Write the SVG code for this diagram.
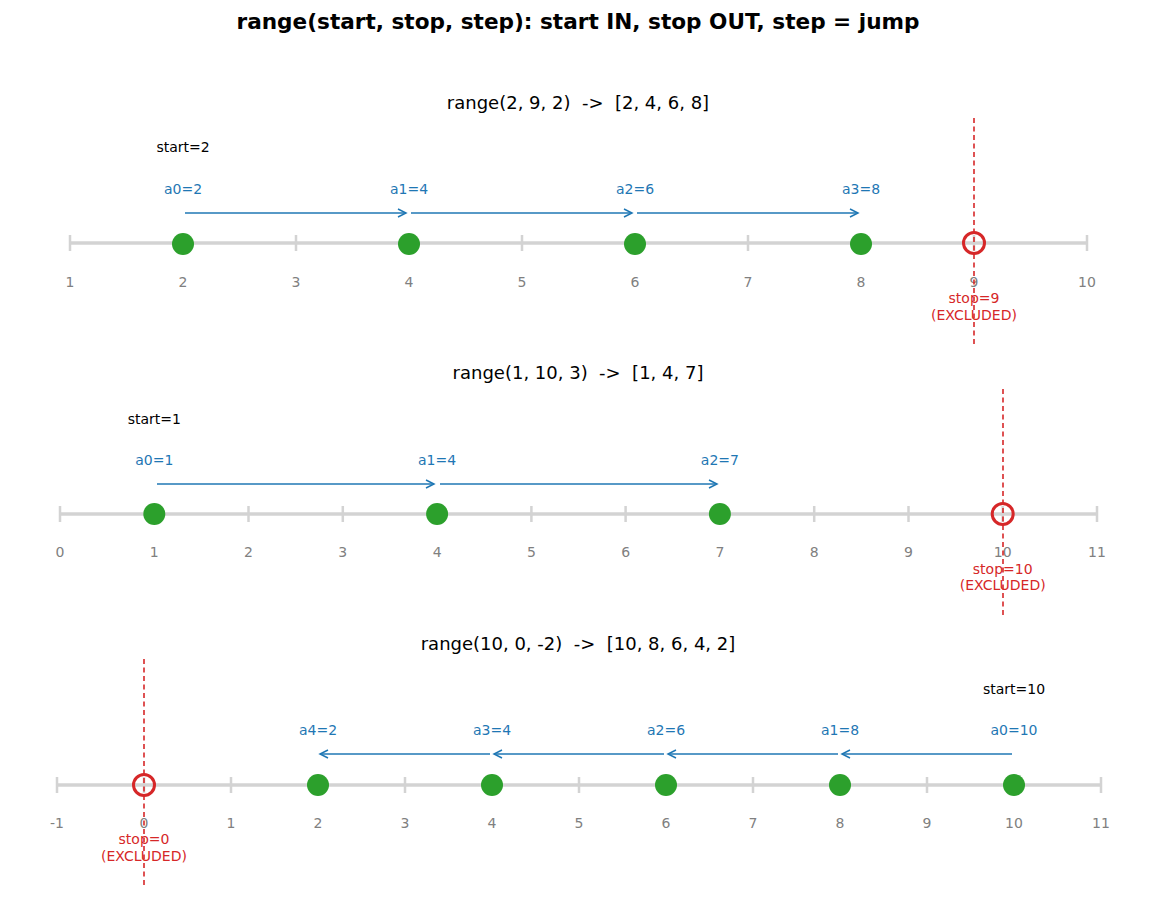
<svg xmlns="http://www.w3.org/2000/svg" width="1156" height="898" viewBox="0 0 1156 898">
<style>
text{font-family:"DejaVu Sans",sans-serif;white-space:pre}
.title{font-size:21.6px;font-weight:bold;fill:#000}
.sub{font-size:18px;fill:#000}
.tick{font-size:14px;fill:#808080}
.lbl{font-size:14px;fill:#1f77b4}
.start{font-size:14px;fill:#000}
.stop{font-size:14px;fill:#d62728}
.axis{stroke:#d3d3d3;stroke-width:3.5;fill:none}
.tk{stroke:#d3d3d3;stroke-width:2.5}
.dot{fill:#2ca02c}
.ring{fill:none;stroke:#d62728;stroke-width:3}
.dash{stroke:#d62728;stroke-width:1.6;stroke-dasharray:5,3.5}
.arr{stroke:#1f77b4;stroke-width:1.5;fill:none;marker-end:url(#ah)}
</style>
<defs>
<marker id="ah" markerWidth="12" markerHeight="12" refX="10" refY="6" orient="auto" markerUnits="userSpaceOnUse">
<path d="M2,2 L10,6 L2,10" fill="none" stroke="#1f77b4" stroke-width="1.5"/>
</marker>
</defs>
<rect width="1156" height="898" fill="#fff"/>
<text class="title" x="578" y="29" text-anchor="middle">range(start, stop, step): start IN, stop OUT, step = jump</text>

<!-- Panel 1 -->
<g id="panel1">
<text class="sub" x="578" y="109" text-anchor="middle" xml:space="preserve">range(2, 9, 2)  -&gt;  [2, 4, 6, 8]</text>
<line class="axis" x1="70" y1="243" x2="1087" y2="243"/>
<g class="tk">
<line x1="70" y1="235" x2="70" y2="251"/><line x1="183" y1="235" x2="183" y2="251"/><line x1="296" y1="235" x2="296" y2="251"/><line x1="409" y1="235" x2="409" y2="251"/><line x1="522" y1="235" x2="522" y2="251"/><line x1="635" y1="235" x2="635" y2="251"/><line x1="748" y1="235" x2="748" y2="251"/><line x1="861" y1="235" x2="861" y2="251"/><line x1="974" y1="235" x2="974" y2="251"/><line x1="1087" y1="235" x2="1087" y2="251"/>
</g>
<g class="tick" text-anchor="middle">
<text x="70" y="287">1</text><text x="183" y="287">2</text><text x="296" y="287">3</text><text x="409" y="287">4</text><text x="522" y="287">5</text><text x="635" y="287">6</text><text x="748" y="287">7</text><text x="861" y="287">8</text><text x="974" y="287">9</text><text x="1087" y="287">10</text>
</g>
<line class="dash" x1="974" y1="118" x2="974" y2="344"/>
<g id="p1n0"><circle class="dot" cx="183" cy="244" r="11"/><text class="lbl" x="183" y="194" text-anchor="middle">a0=2</text></g>
<g id="p1n1"><circle class="dot" cx="409" cy="244" r="11"/><text class="lbl" x="409" y="194" text-anchor="middle">a1=4</text></g>
<g id="p1n2"><circle class="dot" cx="635" cy="244" r="11"/><text class="lbl" x="635" y="194" text-anchor="middle">a2=6</text></g>
<g id="p1n3"><circle class="dot" cx="861" cy="244" r="11"/><text class="lbl" x="861" y="194" text-anchor="middle">a3=8</text></g>
<g id="p1stop"><circle class="ring" cx="974" cy="243" r="10.5"/><text class="stop" x="974" y="303" text-anchor="middle">stop=9</text><text class="stop" x="974" y="320" text-anchor="middle">(EXCLUDED)</text></g>
<text class="start" x="183" y="152" text-anchor="middle">start=2</text>
<g id="p1arrows">
<line class="arr" x1="185" y1="213" x2="406" y2="213"/>
<line class="arr" x1="411" y1="213" x2="632" y2="213"/>
<line class="arr" x1="637" y1="213" x2="858" y2="213"/>
</g>
</g>

<!-- Panel 2 -->
<g id="panel2">
<text class="sub" x="578" y="379" text-anchor="middle" xml:space="preserve">range(1, 10, 3)  -&gt;  [1, 4, 7]</text>
<line class="axis" x1="60" y1="514" x2="1097" y2="514"/>
<g class="tk">
<line x1="60" y1="506" x2="60" y2="522"/><line x1="154.3" y1="506" x2="154.3" y2="522"/><line x1="248.5" y1="506" x2="248.5" y2="522"/><line x1="342.8" y1="506" x2="342.8" y2="522"/><line x1="437.1" y1="506" x2="437.1" y2="522"/><line x1="531.4" y1="506" x2="531.4" y2="522"/><line x1="625.6" y1="506" x2="625.6" y2="522"/><line x1="719.9" y1="506" x2="719.9" y2="522"/><line x1="814.2" y1="506" x2="814.2" y2="522"/><line x1="908.5" y1="506" x2="908.5" y2="522"/><line x1="1002.7" y1="506" x2="1002.7" y2="522"/><line x1="1097" y1="506" x2="1097" y2="522"/>
</g>
<g class="tick" text-anchor="middle">
<text x="60" y="557">0</text><text x="154.3" y="557">1</text><text x="248.5" y="557">2</text><text x="342.8" y="557">3</text><text x="437.1" y="557">4</text><text x="531.4" y="557">5</text><text x="625.6" y="557">6</text><text x="719.9" y="557">7</text><text x="814.2" y="557">8</text><text x="908.5" y="557">9</text><text x="1002.7" y="557">10</text><text x="1097" y="557">11</text>
</g>
<line class="dash" x1="1003" y1="389" x2="1003" y2="615"/>
<g id="p2n0"><circle class="dot" cx="154.3" cy="514" r="11"/><text class="lbl" x="154.3" y="465" text-anchor="middle">a0=1</text></g>
<g id="p2n1"><circle class="dot" cx="437.1" cy="514" r="11"/><text class="lbl" x="437.1" y="465" text-anchor="middle">a1=4</text></g>
<g id="p2n2"><circle class="dot" cx="719.9" cy="514" r="11"/><text class="lbl" x="719.9" y="465" text-anchor="middle">a2=7</text></g>
<g id="p2stop"><circle class="ring" cx="1002.7" cy="514" r="10.5"/><text class="stop" x="1002.7" y="574" text-anchor="middle">stop=10</text><text class="stop" x="1002.7" y="590" text-anchor="middle">(EXCLUDED)</text></g>
<text class="start" x="154.3" y="424" text-anchor="middle">start=1</text>
<g id="p2arrows">
<line class="arr" x1="157" y1="484" x2="434" y2="484"/>
<line class="arr" x1="440" y1="484" x2="717" y2="484"/>
</g>
</g>

<!-- Panel 3 -->
<g id="panel3">
<text class="sub" x="578" y="650" text-anchor="middle" xml:space="preserve">range(10, 0, -2)  -&gt;  [10, 8, 6, 4, 2]</text>
<line class="axis" x1="57" y1="785" x2="1101" y2="785"/>
<g class="tk">
<line x1="57" y1="777" x2="57" y2="793"/><line x1="144" y1="777" x2="144" y2="793"/><line x1="231" y1="777" x2="231" y2="793"/><line x1="318" y1="777" x2="318" y2="793"/><line x1="405" y1="777" x2="405" y2="793"/><line x1="492" y1="777" x2="492" y2="793"/><line x1="579" y1="777" x2="579" y2="793"/><line x1="666" y1="777" x2="666" y2="793"/><line x1="753" y1="777" x2="753" y2="793"/><line x1="840" y1="777" x2="840" y2="793"/><line x1="927" y1="777" x2="927" y2="793"/><line x1="1014" y1="777" x2="1014" y2="793"/><line x1="1101" y1="777" x2="1101" y2="793"/>
</g>
<g class="tick" text-anchor="middle">
<text x="57" y="828">-1</text><text x="144" y="828">0</text><text x="231" y="828">1</text><text x="318" y="828">2</text><text x="405" y="828">3</text><text x="492" y="828">4</text><text x="579" y="828">5</text><text x="666" y="828">6</text><text x="753" y="828">7</text><text x="840" y="828">8</text><text x="927" y="828">9</text><text x="1014" y="828">10</text><text x="1101" y="828">11</text>
</g>
<line class="dash" x1="144" y1="659" x2="144" y2="885"/>
<g id="p3n0"><circle class="dot" cx="1014" cy="785" r="11"/><text class="lbl" x="1014" y="735" text-anchor="middle">a0=10</text></g>
<g id="p3n1"><circle class="dot" cx="840" cy="785" r="11"/><text class="lbl" x="840" y="735" text-anchor="middle">a1=8</text></g>
<g id="p3n2"><circle class="dot" cx="666" cy="785" r="11"/><text class="lbl" x="666" y="735" text-anchor="middle">a2=6</text></g>
<g id="p3n3"><circle class="dot" cx="492" cy="785" r="11"/><text class="lbl" x="492" y="735" text-anchor="middle">a3=4</text></g>
<g id="p3n4"><circle class="dot" cx="318" cy="785" r="11"/><text class="lbl" x="318" y="735" text-anchor="middle">a4=2</text></g>
<g id="p3stop"><circle class="ring" cx="144" cy="785" r="10.5"/><text class="stop" x="144" y="844" text-anchor="middle">stop=0</text><text class="stop" x="144" y="861" text-anchor="middle">(EXCLUDED)</text></g>
<text class="start" x="1014" y="694" text-anchor="middle">start=10</text>
<g id="p3arrows">
<line class="arr" x1="1012" y1="754" x2="842" y2="754"/>
<line class="arr" x1="838" y1="754" x2="668" y2="754"/>
<line class="arr" x1="664" y1="754" x2="494" y2="754"/>
<line class="arr" x1="490" y1="754" x2="320" y2="754"/>
</g>
</g>
</svg>
